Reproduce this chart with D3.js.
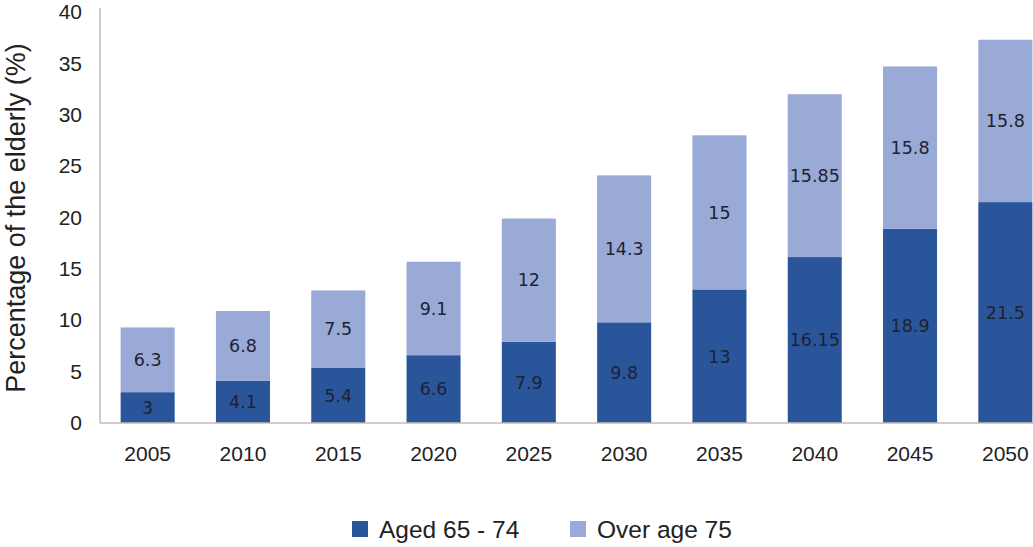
<!DOCTYPE html>
<html>
<head>
<meta charset="utf-8">
<script src="https://cdn.jsdelivr.net/npm/d3@7"></script>
<style>
html,body{margin:0;padding:0;background:#fff;}
svg{display:block;}
</style>
</head>
<body>
<svg id="chart" width="1033" height="547"></svg>
<script>
const years = ["2005","2010","2015","2020","2025","2030","2035","2040","2045","2050"];
const aged65to74 = [3, 4.1, 5.4, 6.6, 7.9, 9.8, 13, 16.15, 18.9, 21.5];
const over75 = [6.3, 6.8, 7.5, 9.1, 12, 14.3, 15, 15.85, 15.8, 15.8];
const yTicks = [0, 5, 10, 15, 20, 25, 30, 35, 40];
const seriesNames = ["Aged 65 - 74", "Over age 75"];
const colors = ["#2b559a", "#9aaad6"];

const svg = d3.select("#chart");
const font = "'Liberation Sans', Arial, sans-serif";

const x = d3.scaleBand().domain(years).range([100, 1053]).paddingInner(0.433).paddingOuter(0.2165);
const y = d3.scaleLinear().domain([0, 40]).range([423, 12]);

const rows = years.map((yr, i) => ({year: yr, a: aged65to74[i], b: over75[i]}));
const stack = d3.stack().keys(["a", "b"])(rows);

const g = svg.append("g");
stack.forEach((layer, li) => {
  g.selectAll(null).data(layer).enter().append("rect")
    .attr("x", d => x(d.data.year))
    .attr("width", x.bandwidth())
    .attr("y", d => y(d[1]))
    .attr("height", d => y(d[0]) - y(d[1]))
    .attr("fill", colors[li]);
  g.selectAll(null).data(layer).enter().append("text")
    .attr("x", d => x(d.data.year) + x.bandwidth() / 2)
    .attr("y", d => (y(d[0]) + y(d[1])) / 2)
    .attr("dy", "0.36em")
    .attr("text-anchor", "middle")
    .attr("font-family", "'DejaVu Sans', Verdana, sans-serif")
    .attr("font-size", 17.5)
    .attr("fill", "#1d2233")
    .text((d, i) => li === 0 ? aged65to74[i] : over75[i]);
});

// axes
const yAxis = d3.axisLeft(y).tickValues(yTicks).tickSize(0).tickPadding(18);
const yg = svg.append("g").attr("transform", "translate(100,0)").call(yAxis);
yg.select(".domain").remove();
yg.selectAll("text").attr("font-family", font).attr("font-size", 21).attr("fill", "#222");

svg.append("line").attr("x1", 100).attr("x2", 100).attr("y1", 8).attr("y2", 423)
  .attr("stroke", "#c4bcb2").attr("stroke-width", 1.5);
svg.append("line").attr("x1", 100).attr("x2", 1033).attr("y1", 423).attr("y2", 423)
  .attr("stroke", "#c4bcb2").attr("stroke-width", 1.5);

const xAxis = d3.axisBottom(x).tickSize(0).tickPadding(23);
const xg = svg.append("g").attr("transform", "translate(0,423)").call(xAxis);
xg.select(".domain").remove();
xg.selectAll("text").attr("font-family", font).attr("font-size", 21).attr("fill", "#222");

// y title
svg.append("text")
  .attr("transform", "translate(25,218) rotate(-90)")
  .attr("text-anchor", "middle")
  .attr("font-family", font)
  .attr("font-size", 27)
  .attr("fill", "#222")
  .text("Percentage of the elderly (%)");

// legend
const legendX = [352, 570];
seriesNames.forEach((name, i) => {
  svg.append("rect").attr("x", legendX[i]).attr("y", 521).attr("width", 16).attr("height", 16).attr("fill", colors[i]);
  svg.append("text").attr("x", legendX[i] + 27).attr("y", 538)
    .attr("font-family", font).attr("font-size", 24.5).attr("fill", "#222")
    .text(name);
});
</script>
</body>
</html>
